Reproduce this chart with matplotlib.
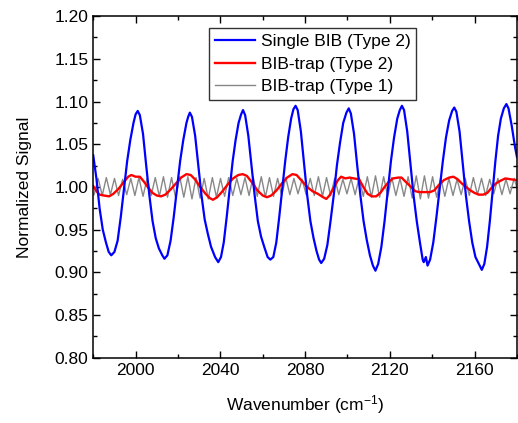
import numpy as np
import matplotlib.pyplot as plt
from matplotlib.ticker import MultipleLocator

plt.rcParams['font.family'] = 'Liberation Sans'
plt.rcParams['mathtext.default'] = 'regular'

# Single BIB (Type 2)
blue_x = [1980.0, 1981.5, 1983.0, 1984.5, 1986.0, 1987.3, 1988.5,
          1990.0, 1991.5, 1993.0, 1994.5, 1996.0, 1997.5, 1999.0, 2000.0, 2001.0,
          2002.0, 2003.5, 2005.0, 2006.5, 2008.0, 2009.5, 2011.0, 2012.6, 2013.6,
          2015.0, 2016.5, 2018.0, 2019.5, 2021.0, 2022.5, 2024.0, 2024.8, 2025.6,
          2026.6, 2028.1, 2029.6, 2031.1, 2032.6, 2034.1, 2035.6, 2037.5, 2039.0,
          2040.3, 2041.6, 2043.0, 2044.4, 2045.8, 2047.2, 2048.6, 2049.8, 2050.7,
          2051.7, 2053.2, 2054.7, 2056.2, 2057.7, 2059.2, 2060.7, 2062.3, 2063.6,
          2065.0, 2066.4, 2067.8, 2069.2, 2070.6, 2072.0, 2073.4, 2074.5, 2075.5,
          2076.5, 2078.0, 2079.5, 2081.0, 2082.5, 2084.0, 2085.4, 2086.6, 2087.6,
          2089.0, 2090.5, 2092.0, 2093.5, 2095.0, 2096.5, 2098.0, 2099.5, 2100.6,
          2101.6, 2103.1, 2104.6, 2106.1, 2107.6, 2109.1, 2110.6, 2112.0, 2113.2,
          2114.5, 2116.0, 2117.5, 2119.0, 2120.5, 2122.0, 2123.5, 2124.7, 2125.7,
          2126.7, 2128.2, 2129.7, 2131.2, 2132.7, 2134.2, 2135.5, 2136.0, 2137.0, 2137.8,
          2139.0, 2140.5, 2142.0, 2143.5, 2145.0, 2146.5, 2148.0, 2149.4, 2150.4,
          2151.4, 2152.9, 2154.4, 2155.9, 2157.4, 2158.9, 2160.4, 2162.0, 2163.4,
          2164.6, 2165.9, 2167.2, 2168.5, 2169.8, 2171.1, 2172.4, 2173.8, 2175.0,
          2176.0, 2177.5, 2179.0, 2180.0]
blue_y = [1.037, 1.010, 0.975, 0.950, 0.935, 0.924, 0.920,
          0.924, 0.937, 0.965, 0.998, 1.030, 1.055, 1.075, 1.085, 1.089,
          1.084, 1.062, 1.025, 0.990, 0.960, 0.940, 0.928, 0.920, 0.916,
          0.920, 0.937, 0.965, 0.998, 1.030, 1.055, 1.075, 1.082, 1.087,
          1.082, 1.060, 1.025, 0.990, 0.962, 0.945, 0.930, 0.918, 0.912,
          0.918, 0.935, 0.965, 0.998, 1.030, 1.055, 1.075, 1.085, 1.090,
          1.084, 1.060, 1.025, 0.990, 0.960, 0.942, 0.930, 0.918, 0.915,
          0.918, 0.935, 0.965, 0.998, 1.030, 1.058, 1.080, 1.091, 1.095,
          1.090, 1.065, 1.027, 0.990, 0.960, 0.940, 0.925, 0.915, 0.911,
          0.916, 0.932, 0.960, 0.990, 1.025, 1.052, 1.075, 1.087, 1.092,
          1.086, 1.062, 1.025, 0.990, 0.960, 0.938, 0.920, 0.908, 0.902,
          0.910, 0.930, 0.960, 0.995, 1.030, 1.058, 1.080, 1.090, 1.095,
          1.090, 1.065, 1.027, 0.990, 0.960, 0.935, 0.915, 0.912, 0.918, 0.908,
          0.915, 0.935, 0.965, 0.998, 1.030, 1.058, 1.078, 1.089, 1.093,
          1.088, 1.065, 1.028, 0.990, 0.960, 0.935, 0.918, 0.910, 0.903,
          0.910, 0.930, 0.960, 0.995, 1.030, 1.060, 1.080, 1.092, 1.097,
          1.092, 1.072, 1.048, 1.035]

# BIB-trap (Type 2)
red_x = [1980, 1981.5, 1983, 1985, 1987.5, 1989.5, 1992, 1994.5, 1996.5, 1998,
         2000, 2002, 2004, 2006, 2008, 2010, 2012, 2014, 2016.5, 2019,
         2021.5, 2024, 2026, 2028, 2030.5, 2033, 2035, 2036.5, 2038.5, 2041,
         2043.5, 2046, 2048.5, 2050.5, 2052.5, 2055, 2057.5, 2060, 2062, 2064,
         2066.5, 2069, 2071.5, 2074, 2076, 2078.5, 2081, 2083.5, 2086, 2088.5,
         2090, 2091.5, 2093.5, 2095.5, 2097, 2099, 2101, 2103, 2105.5, 2107.5,
         2109.5, 2111.5, 2113.5, 2115.5, 2117.5, 2119.5, 2121.5, 2124, 2125.5, 2127.5,
         2130, 2132, 2134, 2136.5, 2139, 2141, 2143, 2145.5, 2148, 2150,
         2152, 2154, 2156, 2158, 2160, 2162, 2164, 2166, 2168, 2170,
         2172, 2174.5, 2177, 2180]
red_y = [1.001, 0.995, 0.991, 0.990, 0.989, 0.992, 0.998, 1.006, 1.012, 1.014,
         1.012, 1.012, 1.006, 0.999, 0.993, 0.990, 0.989, 0.991, 0.997, 1.004,
         1.011, 1.015, 1.014, 1.009, 1.000, 0.992, 0.987, 0.985, 0.988, 0.995,
         1.003, 1.010, 1.014, 1.015, 1.013, 1.005, 0.996, 0.990, 0.988, 0.990,
         0.996, 1.004, 1.011, 1.015, 1.014, 1.007, 1.000, 0.995, 0.992, 0.988,
         0.986, 0.990, 0.999, 1.008, 1.012, 1.010, 1.011, 1.010, 1.009, 1.000,
         0.992, 0.989, 0.989, 0.993, 1.000, 1.006, 1.010, 1.011, 1.011, 1.006,
         1.000, 0.995, 0.994, 0.994, 0.994, 0.996, 1.002, 1.008, 1.011, 1.012,
         1.009, 1.004, 1.000, 0.996, 0.993, 0.991, 0.991, 0.993, 0.999, 1.004,
         1.007, 1.010, 1.009, 1.008]

# BIB-trap (Type 1): fast fringes, sampled at half-period steps
gray_x = 1980.4 + 1.925 * np.arange(105)
gray_y = [0.991, 1.010, 0.990, 1.011, 0.991, 1.010, 0.990, 1.009, 0.991, 1.010,
          0.990, 1.011, 0.989, 1.010, 0.990, 1.011, 0.989, 1.012, 0.988, 1.011,
          0.987, 1.012, 0.988, 1.012, 0.986, 1.011, 0.987, 1.010, 0.986, 1.011,
          0.988, 1.010, 0.989, 1.011, 0.990, 1.010, 0.991, 1.011, 0.990, 1.012,
          0.989, 1.012, 0.988, 1.011, 0.989, 1.010, 0.990, 1.011, 0.991, 1.010,
          0.992, 1.009, 0.991, 1.010, 0.990, 1.012, 0.989, 1.011, 0.990, 1.010,
          0.991, 1.009, 0.992, 1.010, 0.991, 1.011, 0.989, 1.012, 0.988, 1.013,
          0.988, 1.012, 0.989, 1.011, 0.990, 1.010, 0.989, 1.012, 0.987, 1.013,
          0.986, 1.013, 0.987, 1.012, 0.988, 1.011, 0.989, 1.010, 0.990, 1.009,
          0.991, 1.010, 0.990, 1.011, 0.991, 1.010, 0.990, 1.009, 0.992, 1.010,
          0.991, 1.009, 0.992, 1.010, 0.994]

fig = plt.figure(figsize=(5.18, 4.23), dpi=100)
ax = fig.add_axes([0.18, 0.154, 0.818, 0.808])

l3, = ax.plot(gray_x, gray_y, color='#888888', lw=1.0)
l2, = ax.plot(red_x, red_y, color='#ff0000', lw=1.7)
l1, = ax.plot(blue_x, blue_y, color='#0000ff', lw=1.6)

ax.set_xlim(1980, 2180)
ax.set_ylim(0.80, 1.20)
ax.xaxis.set_major_locator(MultipleLocator(40))
ax.xaxis.set_minor_locator(MultipleLocator(20))
ax.yaxis.set_major_locator(MultipleLocator(0.05))
ax.yaxis.set_minor_locator(MultipleLocator(0.025))
ax.yaxis.set_major_formatter(plt.FormatStrFormatter('%.2f'))
ax.tick_params(which='both', direction='in', top=True, right=True, labelsize=12.5, width=1)
ax.tick_params(which='major', length=5)
ax.tick_params(which='minor', length=3)
for s in ax.spines.values():
    s.set_linewidth(1.1)

ax.set_xlabel('Wavenumber (cm$^{-1}$)', fontsize=12.5, labelpad=11)
ax.set_ylabel('Normalized Signal', fontsize=12.5, labelpad=16)

leg = ax.legend([l1, l2, l3], ['Single BIB (Type 2)', 'BIB-trap (Type 2)', 'BIB-trap (Type 1)'],
                loc='upper left', bbox_to_anchor=(0.274, 0.965), borderaxespad=0,
                fontsize=12.5, frameon=True, fancybox=False, edgecolor='black',
                handlelength=2.3, handletextpad=0.3, labelspacing=0.42, borderpad=0.35)
leg.get_frame().set_linewidth(1.0)

plt.savefig('out.png', dpi=100)
